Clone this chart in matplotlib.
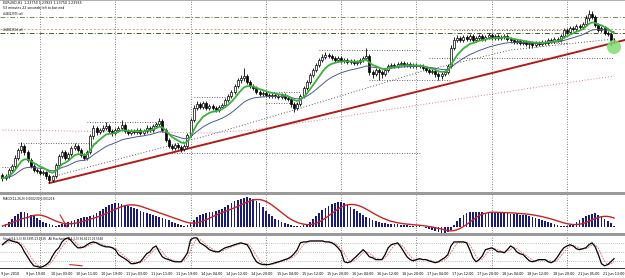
import matplotlib
matplotlib.use("Agg")
import matplotlib.pyplot as plt
import numpy as np
import pandas as pd
from matplotlib.patches import Rectangle, Ellipse

closes = [1.2099,1.2103,1.2115,1.2123,1.2139,1.2155,1.2163,1.2151,1.2135,1.2123,
1.2115,1.2113,1.2109,1.2111,1.2103,1.2095,1.2103,1.2125,1.2143,1.2151,
1.2139,1.2147,1.2159,1.2163,1.2155,1.2145,1.2139,1.2151,1.2183,1.2199,
1.2191,1.2195,1.2199,1.2203,1.2193,1.2189,1.2195,1.2199,1.2205,1.2193,
1.2189,1.2193,1.2191,1.2195,1.2189,1.2193,1.2199,1.2195,1.2203,1.2207,
1.2213,1.2195,1.2175,1.2163,1.2159,1.2165,1.2161,1.2157,1.2163,1.2185,
1.2215,1.2239,1.2247,1.2241,1.2249,1.2239,1.2243,1.2239,1.2235,1.2241,
1.2245,1.2255,1.2263,1.2271,1.2283,1.2295,1.2299,1.2303,1.2291,1.2283,
1.2279,1.2271,1.2267,1.2269,1.2265,1.2263,1.2265,1.2263,1.2261,1.2265,
1.2259,1.2257,1.2247,1.2239,1.2247,1.2263,1.2279,1.2291,1.2305,1.2315,
1.2325,1.2335,1.2341,1.2345,1.2343,1.2339,1.2335,1.2339,1.2333,1.2335,
1.2331,1.2333,1.2329,1.2331,1.2335,1.2339,1.2343,1.2311,1.2307,1.2315,
1.2311,1.2307,1.2315,1.2323,1.2325,1.2323,1.2327,1.2329,1.2325,1.2327,
1.2323,1.2325,1.2323,1.2323,1.2319,1.2315,1.2311,1.2313,1.2307,1.2303,
1.2307,1.2311,1.2323,1.2359,1.2375,1.2379,1.2375,1.2381,1.2377,1.2383,
1.2375,1.2379,1.2383,1.2377,1.2381,1.2385,1.2379,1.2383,1.2379,1.2381,
1.2383,1.2377,1.2375,1.2371,1.2373,1.2369,1.2371,1.2367,1.2369,1.2365,
1.2369,1.2367,1.2371,1.2369,1.2375,1.2373,1.2377,1.2375,1.2383,1.2395,
1.2391,1.2399,1.2397,1.2403,1.2401,1.2407,1.2419,1.2427,1.2421,1.2405,
1.2395,1.2399,1.2389,1.2387,1.2375,1.2375]

opens = [1.2105,1.2099,1.2103,1.2115,1.2123,1.2139,1.2155,1.2163,1.2151,1.2135,
1.2123,1.2115,1.2113,1.2109,1.2111,1.2103,1.2095,1.2103,1.2125,1.2143,
1.2151,1.2139,1.2147,1.2159,1.2163,1.2155,1.2145,1.2139,1.2151,1.2183,
1.2199,1.2191,1.2195,1.2199,1.2203,1.2193,1.2189,1.2195,1.2199,1.2205,
1.2193,1.2189,1.2193,1.2191,1.2195,1.2189,1.2193,1.2199,1.2195,1.2203,
1.2207,1.2213,1.2195,1.2175,1.2163,1.2159,1.2165,1.2161,1.2157,1.2163,
1.2185,1.2215,1.2239,1.2247,1.2241,1.2249,1.2239,1.2243,1.2239,1.2235,
1.2241,1.2245,1.2255,1.2263,1.2271,1.2283,1.2295,1.2299,1.2303,1.2291,
1.2283,1.2279,1.2271,1.2267,1.2269,1.2265,1.2263,1.2265,1.2263,1.2261,
1.2265,1.2259,1.2257,1.2247,1.2239,1.2247,1.2263,1.2279,1.2291,1.2305,
1.2315,1.2325,1.2335,1.2341,1.2345,1.2343,1.2339,1.2335,1.2339,1.2333,
1.2335,1.2331,1.2333,1.2329,1.2331,1.2335,1.2339,1.2343,1.2311,1.2307,
1.2315,1.2311,1.2307,1.2315,1.2323,1.2325,1.2323,1.2327,1.2329,1.2325,
1.2327,1.2323,1.2325,1.2323,1.2323,1.2319,1.2315,1.2311,1.2313,1.2307,
1.2303,1.2307,1.2311,1.2323,1.2359,1.2375,1.2379,1.2375,1.2381,1.2377,
1.2383,1.2375,1.2379,1.2383,1.2377,1.2381,1.2385,1.2379,1.2383,1.2379,
1.2381,1.2383,1.2377,1.2375,1.2371,1.2373,1.2369,1.2371,1.2367,1.2369,
1.2365,1.2369,1.2367,1.2371,1.2369,1.2375,1.2373,1.2377,1.2375,1.2383,
1.2395,1.2391,1.2399,1.2397,1.2403,1.2401,1.2407,1.2419,1.2427,1.2421,
1.2405,1.2395,1.2399,1.2389,1.2387,1.2375]

highs = [1.2109,1.2108,1.2119,1.2128,1.2145,1.2160,1.2171,1.2167,1.2155,1.2139,
1.2127,1.2119,1.2117,1.2115,1.2114,1.2107,1.2106,1.2129,1.2148,1.2156,
1.2156,1.2151,1.2164,1.2169,1.2167,1.2159,1.2149,1.2155,1.2188,1.2205,
1.2204,1.2199,1.2205,1.2211,1.2207,1.2197,1.2199,1.2204,1.2215,1.2209,
1.2197,1.2197,1.2197,1.2200,1.2199,1.2197,1.2205,1.2203,1.2208,1.2212,
1.2219,1.2217,1.2199,1.2179,1.2167,1.2169,1.2169,1.2165,1.2167,1.2190,
1.2220,1.2245,1.2253,1.2251,1.2254,1.2253,1.2247,1.2247,1.2243,1.2245,
1.2249,1.2259,1.2268,1.2276,1.2288,1.2300,1.2305,1.2319,1.2308,1.2295,
1.2287,1.2283,1.2275,1.2273,1.2273,1.2269,1.2269,1.2269,1.2267,1.2269,
1.2269,1.2263,1.2261,1.2251,1.2251,1.2267,1.2284,1.2296,1.2310,1.2320,
1.2330,1.2340,1.2347,1.2351,1.2349,1.2347,1.2343,1.2343,1.2343,1.2339,
1.2339,1.2337,1.2337,1.2335,1.2339,1.2343,1.2359,1.2347,1.2315,1.2319,
1.2319,1.2315,1.2319,1.2327,1.2329,1.2329,1.2331,1.2333,1.2333,1.2331,
1.2331,1.2329,1.2329,1.2327,1.2327,1.2323,1.2319,1.2317,1.2317,1.2311,
1.2311,1.2315,1.2328,1.2365,1.2381,1.2385,1.2383,1.2386,1.2385,1.2388,
1.2387,1.2383,1.2387,1.2387,1.2385,1.2389,1.2389,1.2387,1.2387,1.2385,
1.2387,1.2387,1.2381,1.2379,1.2377,1.2377,1.2375,1.2375,1.2373,1.2373,
1.2373,1.2373,1.2375,1.2375,1.2379,1.2379,1.2381,1.2381,1.2388,1.2400,
1.2399,1.2404,1.2403,1.2408,1.2407,1.2412,1.2425,1.2435,1.2433,1.2425,
1.2409,1.2403,1.2403,1.2393,1.2391,1.2379]

lows = [1.2094,1.2095,1.2100,1.2111,1.2119,1.2135,1.2150,1.2146,1.2131,1.2119,
1.2111,1.2109,1.2105,1.2105,1.2098,1.2089,1.2091,1.2100,1.2121,1.2139,
1.2135,1.2135,1.2143,1.2155,1.2151,1.2141,1.2135,1.2135,1.2147,1.2178,
1.2186,1.2187,1.2191,1.2195,1.2189,1.2184,1.2185,1.2191,1.2195,1.2189,
1.2185,1.2185,1.2187,1.2187,1.2185,1.2185,1.2189,1.2191,1.2191,1.2199,
1.2203,1.2191,1.2171,1.2159,1.2155,1.2155,1.2157,1.2151,1.2153,1.2159,
1.2181,1.2211,1.2235,1.2237,1.2237,1.2235,1.2235,1.2235,1.2231,1.2231,
1.2237,1.2241,1.2251,1.2259,1.2267,1.2279,1.2290,1.2294,1.2287,1.2279,
1.2275,1.2267,1.2263,1.2263,1.2261,1.2259,1.2259,1.2259,1.2257,1.2257,
1.2255,1.2253,1.2241,1.2231,1.2235,1.2243,1.2259,1.2275,1.2287,1.2301,
1.2311,1.2321,1.2331,1.2337,1.2339,1.2335,1.2331,1.2331,1.2329,1.2329,
1.2327,1.2327,1.2325,1.2325,1.2327,1.2331,1.2335,1.2305,1.2299,1.2303,
1.2295,1.2299,1.2303,1.2311,1.2319,1.2319,1.2319,1.2323,1.2321,1.2321,
1.2319,1.2319,1.2319,1.2319,1.2315,1.2311,1.2307,1.2307,1.2301,1.2295,
1.2297,1.2303,1.2307,1.2319,1.2355,1.2371,1.2371,1.2371,1.2373,1.2373,
1.2371,1.2371,1.2375,1.2373,1.2373,1.2377,1.2375,1.2375,1.2375,1.2375,
1.2377,1.2373,1.2371,1.2367,1.2367,1.2365,1.2365,1.2363,1.2359,1.2359,
1.2361,1.2363,1.2363,1.2365,1.2365,1.2369,1.2369,1.2371,1.2371,1.2379,
1.2387,1.2387,1.2393,1.2393,1.2397,1.2397,1.2403,1.2414,1.2417,1.2401,
1.2391,1.2391,1.2385,1.2383,1.2363,1.2369]

macd_pips = [2,6,10,16,22,26,30,30,28,24,
22,18,14,10,8,6,4,2,4,6,
8,10,12,14,16,18,20,20,22,24,
28,32,36,40,44,46,48,48,46,44,
42,40,38,36,32,30,28,26,24,22,
20,18,16,14,10,8,6,4,2,4,
8,14,20,24,26,28,30,30,32,34,
36,40,44,48,52,54,56,58,60,58,
56,52,48,40,32,26,22,16,14,10,
8,6,4,2,2,2,4,6,10,16,
22,28,34,38,42,46,48,50,50,48,
44,40,36,32,28,24,20,18,14,12,
10,8,8,6,6,6,6,4,4,4,
2,2,2,2,0,-2,-4,-6,-8,-10,
-12,-12,-10,-6,4,12,18,24,28,30,
30,30,30,30,28,30,30,28,28,28,
28,28,26,26,26,24,24,24,22,20,
18,16,14,12,10,8,6,4,2,2,
2,4,6,10,14,18,22,24,26,28,
24,20,16,12,8,2]

stoch_k = [74,83,90,86,83,80,70,51,35,19,
6,4,1,4,10,19,38,54,64,83,
93,96,86,74,64,64,67,74,80,83,
80,74,70,67,67,64,58,42,35,29,
22,13,13,16,19,32,45,51,64,70,
51,35,29,26,22,19,19,19,32,48,
90,96,96,80,74,67,58,54,51,51,
58,64,67,70,74,77,80,77,74,58,
35,19,13,10,10,10,13,16,19,22,
26,29,35,45,58,80,83,83,86,86,
86,86,86,83,83,80,74,64,51,19,
16,19,29,38,48,58,48,35,32,26,
26,26,42,64,74,77,80,67,51,35,
26,22,26,29,26,26,22,19,16,19,
26,32,42,70,83,83,83,83,80,58,
32,19,26,38,58,61,64,58,51,51,
48,58,70,64,51,45,42,32,22,19,
22,26,26,26,19,16,22,35,51,64,
70,74,70,61,58,61,64,74,80,67,
42,13,6,10,19,29]

time_labels = ["9 Jun 2010","9 Jun 19:00","10 Jun 03:00","10 Jun 11:00","10 Jun 19:00",
"11 Jun 03:00","11 Jun 11:00","11 Jun 19:00","14 Jun 04:00","14 Jun 12:00",
"14 Jun 20:00","15 Jun 04:00","15 Jun 12:00","15 Jun 20:00","16 Jun 04:00",
"16 Jun 12:00","16 Jun 20:00","17 Jun 04:00","17 Jun 12:00","17 Jun 20:00",
"18 Jun 04:00","18 Jun 12:00","18 Jun 20:00","21 Jun 05:00","21 Jun 13:00"]
label_bars = [0,8,16,24,32,40,48,56,64,72,80,88,96,104,112,120,128,136,144,152,160,168,176,184,192]
grid_bars = [12,36,60,84,108,132,156,180]

ma_slow_bars = [18, 66, 93, 133, 162, 195]
ma_slow_vals = [1.2105, 1.2185, 1.2235, 1.2311, 1.2355, 1.2377]
ma_long_bars = [0, 66, 80, 133, 175, 195]
ma_long_vals = [1.2195, 1.2189, 1.2195, 1.2245, 1.2285, 1.2303]
trend_bars = [15, 198.5]
trend_vals = [1.2089, 1.2375]
order_levels = [1.2422, 1.2397, 1.2389]
order_names = ["#46022975 sell", "#46022554 sell"]

level_vals = [1.2121, 1.2169, 1.2211, 1.2149, 1.2261, 1.2271, 1.2249, 1.2355, 1.2295, 1.2339, 1.2395, 1.2369]
level_from = [0, 5, 27, 53, 61, 84, 84, 101, 117, 136, 144, 162]
level_to = [3.4, 30, 49, 133, 72.5, 95, 95, 133, 143, 195, 178, 180]

macd_mark_bars = [18.4, 20.6]
macd_mark_vals = [0.0024, 0.0000]
stoch_mark_bars = [21.5, 25.4]
stoch_mark_vals = [10, 6]

N = len(closes)
idx = np.arange(N)
o = np.array(opens); c = np.array(closes); h = np.array(highs); l = np.array(lows)

W, H = 625, 278
fig = plt.figure(figsize=(W/100, H/100), dpi=100)
fig.patch.set_facecolor("white")

def frac(y0, y1):
    return [0, 1 - y1/H, 1, (y1 - y0)/H]

XL = (-0.77, 198.5)
ax = fig.add_axes(frac(0, 192))
axm = fig.add_axes(frac(195, 233))
axs = fig.add_axes(frac(236, 268))
for a in (ax, axm, axs):
    a.set_xlim(*XL)
    a.set_xticks([]); a.set_yticks([])
    for s in a.spines.values():
        s.set_visible(False)
    for g in grid_bars:
        a.axvline(g, color="#555555", lw=0.6, ls=(0, (1, 2)), zorder=0)

ax.set_ylim(1.2455 - 0.0002*192, 1.2455)

# order lines
ax.axhline(order_levels[0], color="#7a8a5a", lw=0.7, ls=(0, (5, 2, 1, 2)))
ax.axhline(order_levels[1], color="#d4a070", lw=0.7, ls=(0, (2, 2)))
ax.axhline(order_levels[2], color="#3d5a2a", lw=0.7, ls=(0, (5, 2, 1, 2)))
ax.text(0.3, order_levels[0] + 0.0002, order_names[0], fontsize=1.8, va="bottom")
ax.text(0.3, order_levels[2] + 0.0003, order_names[1], fontsize=1.8, va="bottom")

# level segments
ax.hlines(level_vals, level_from, level_to, colors="#333333", lw=0.6, linestyles=(0, (1, 2)), zorder=1)

# long MAs and trend line
ax.plot(ma_long_bars, ma_long_vals, color="#d08080", lw=0.7, ls=(0, (1, 2)))
ax.plot(ma_slow_bars, ma_slow_vals, color="#555555", lw=0.7, ls=(0, (1, 2)))
ax.plot(trend_bars, trend_vals, color="#b01c1c", lw=1.4)

# candles
ax.vlines(idx, l, h, color="black", lw=0.6, zorder=3)
for i in range(N):
    bottom = min(o[i], c[i]); hgt = max(abs(c[i]-o[i]), 0.00005)
    fc = "white" if c[i] >= o[i] else "black"
    ax.add_patch(Rectangle((i-0.32, bottom), 0.64, hgt, facecolor=fc, edgecolor="black", lw=0.5, zorder=4))

s = pd.Series(c)
ema_fast = s.ewm(span=8, adjust=False).mean()
ema_mid = s.ewm(span=21, adjust=False).mean()
ax.plot(idx, ema_mid, color="#4a5a8a", lw=0.7, zorder=5)
ax.plot(idx, ema_fast, color="#3cb03c", lw=1.3, zorder=6)

ax.add_patch(Ellipse((195, 1.2361), 4.5, 0.0028, facecolor="#80dd70", alpha=0.85, zorder=7))

ax.text(0.3, 1.2453, "EURUSD,H1  1.23750 1.23933 1.23750 1.23935", fontsize=2.3, va="top")
ax.text(0.3, 1.2443, "53 minutes 22 seconds left to bar end", fontsize=2.3, va="top")

# MACD
m = np.array(macd_pips) / 10000.0
sig = pd.Series(m).rolling(9, min_periods=1).mean()
axm.set_ylim(-0.0012, 0.0064)
axm.bar(idx, m, width=0.55, color="#1c1c6e", zorder=3)
axm.plot(idx, sig, color="#c02828", lw=1.0, zorder=4)
axm.plot(macd_mark_bars, macd_mark_vals, color="#c02828", lw=0.8, zorder=4)
axm.text(0.3, 0.0059, "MACD(12,26,9) 0.000230 0.001218", fontsize=2.1, va="top")

# Stochastic
k = np.array(stoch_k, dtype=float)
d = pd.Series(k).rolling(3, min_periods=1).mean()
axs.set_ylim(-1, 102)
for lv in (20, 50, 80):
    axs.axhline(lv, color="#888888", lw=0.5, ls=(0, (1, 2)))
axs.plot(idx, d, color="#e08080", lw=0.7, ls=(0, (2, 1)), zorder=3)
axs.plot(idx, k, color="black", lw=0.9, zorder=4)
axs.plot(stoch_mark_bars, stoch_mark_vals, color="#c03030", lw=0.8, zorder=4)
axs.text(0.3, 100, "Stoch(14,3,3) 30.5395 23.1326   All Stochastic (14,3,3) 36.6111 25.5348", fontsize=2.0, va="top")

# separators and borders
for y0, y1 in ((192, 195), (233, 236)):
    fig.patches.append(Rectangle((0, 1 - y1/H), 1, (y1-y0)/H, transform=fig.transFigure, facecolor="#9a9a9a", edgecolor="none"))
fig.patches.append(Rectangle((0, 1 - 269/H), 1, 1/H, transform=fig.transFigure, facecolor="#333333", edgecolor="none"))
fig.patches.append(Rectangle((0, 1 - 1/H), 1, 1/H, transform=fig.transFigure, facecolor="#b0b0b0", edgecolor="none"))

# time labels
for b, t in zip(label_bars, time_labels):
    xf = (b - XL[0]) / (XL[1] - XL[0])
    fig.text(xf - 0.003, 1 - 274/H, t, fontsize=2.4, va="center", ha="left")

fig.savefig("out.png", dpi=100)
